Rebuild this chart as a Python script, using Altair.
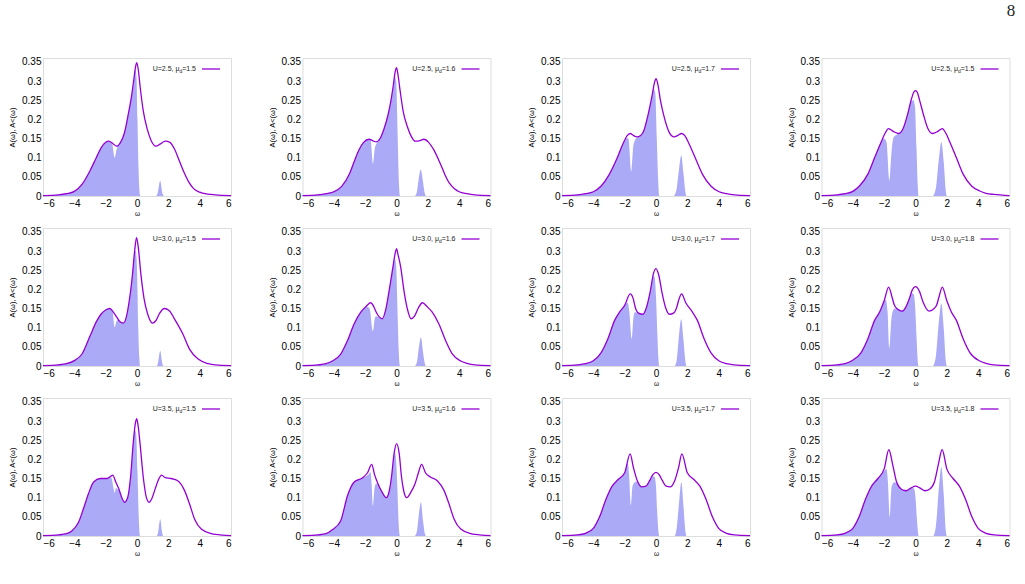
import altair as alt
import pandas as pd

# ---- panel labels -------------------------------------------------------
U_LABELS = ["2.5", "2.5", "2.5", "2.5",
            "3.0", "3.0", "3.0", "3.0",
            "3.5", "3.5", "3.5", "3.5"]
MU_LABELS = ["1.5", "1.6", "1.7", "1.5",
             "1.5", "1.6", "1.7", "1.8",
             "1.5", "1.6", "1.7", "1.8"]

X_TICKS = [-6, -4, -2, 0, 2, 4, 6]
Y_TICKS = [0, 0.05, 0.1, 0.15, 0.2, 0.25, 0.3, 0.35]

# ---- spectral functions: A(w) (line) and A^<(w) (filled) ----------------
# U=2.5, mu_d=1.5
W_A_1 = [-6, -5, -4.5, -4, -3.5, -3, -2.6, -2.3, -2.0, -1.8, -1.55, -1.3, -1.05, -0.8, -0.55, -0.35, -0.2, -0.1, -0.02, 0.08, 0.2, 0.4, 0.65, 0.9, 1.2, 1.5, 1.8, 2.1, 2.4, 2.7, 3.0, 3.3, 3.6, 4.0, 4.5, 5, 6]
A_1 = [0.001, 0.003, 0.006, 0.012, 0.031, 0.066, 0.1, 0.125, 0.14, 0.143, 0.137, 0.13, 0.14, 0.165, 0.215, 0.26, 0.305, 0.335, 0.348, 0.33, 0.285, 0.222, 0.175, 0.145, 0.13, 0.136, 0.143, 0.14, 0.122, 0.092, 0.062, 0.037, 0.02, 0.01, 0.005, 0.003, 0.001]
W_F_1 = [-6, -5, -4.5, -4, -3.5, -3, -2.6, -2.3, -2.0, -1.8, -1.6, -1.42, -1.3, -1.15, -1.05, -0.8, -0.55, -0.35, -0.2, -0.1, -0.03, 0.03, 0.1, 0.18, 0.22, 1.2, 1.32, 1.48, 1.62, 1.72, 6]
F_1 = [0.001, 0.003, 0.006, 0.012, 0.031, 0.066, 0.1, 0.125, 0.14, 0.143, 0.138, 0.1, 0.122, 0.134, 0.14, 0.165, 0.215, 0.26, 0.3, 0.33, 0.31, 0.2, 0.07, 0.005, 0, 0, 0.008, 0.04, 0.008, 0, 0]

# U=2.5, mu_d=1.6
W_A_2 = [-6, -5, -4.5, -4, -3.5, -3, -2.7, -2.4, -2.1, -1.75, -1.5, -1.3, -1.05, -0.8, -0.55, -0.35, -0.2, -0.08, 0, 0.1, 0.22, 0.43, 0.7, 0.95, 1.2, 1.45, 1.75, 2.05, 2.4, 2.8, 3.1, 3.4, 3.7, 4.0, 4.5, 5, 6]
A_2 = [0.001, 0.003, 0.006, 0.011, 0.025, 0.058, 0.09, 0.12, 0.14, 0.148, 0.144, 0.141, 0.15, 0.175, 0.21, 0.25, 0.29, 0.325, 0.335, 0.315, 0.278, 0.22, 0.18, 0.155, 0.143, 0.144, 0.148, 0.14, 0.119, 0.084, 0.055, 0.032, 0.019, 0.011, 0.006, 0.003, 0.001]
W_F_2 = [-6, -5, -4.5, -4, -3.5, -3, -2.7, -2.4, -2.1, -1.75, -1.65, -1.5, -1.38, -1.25, -1.1, -0.8, -0.55, -0.35, -0.2, -0.1, -0.02, 0.06, 0.14, 0.22, 1.15, 1.3, 1.42, 1.55, 1.68, 1.8, 1.9, 6]
F_2 = [0.001, 0.003, 0.006, 0.011, 0.025, 0.058, 0.09, 0.12, 0.14, 0.148, 0.145, 0.084, 0.125, 0.138, 0.147, 0.175, 0.21, 0.25, 0.285, 0.31, 0.3, 0.18, 0.05, 0, 0, 0.01, 0.045, 0.069, 0.04, 0.008, 0, 0]

# U=2.5, mu_d=1.7
W_A_3 = [-6, -5, -4.5, -4, -3.5, -3, -2.5, -2.1, -1.85, -1.65, -1.45, -1.22, -1.0, -0.8, -0.5, -0.26, -0.1, 0, 0.1, 0.28, 0.54, 0.82, 1.0, 1.15, 1.4, 1.63, 1.85, 2.1, 2.53, 2.96, 3.5, 4.03, 4.5, 5, 6]
A_3 = [0.001, 0.003, 0.006, 0.011, 0.026, 0.055, 0.097, 0.137, 0.157, 0.163, 0.158, 0.154, 0.157, 0.168, 0.213, 0.26, 0.295, 0.306, 0.295, 0.25, 0.203, 0.168, 0.157, 0.154, 0.158, 0.163, 0.157, 0.137, 0.097, 0.057, 0.026, 0.011, 0.006, 0.003, 0.001]
W_F_3 = [-6, -5, -4.5, -4, -3.5, -3, -2.5, -2.1, -1.85, -1.75, -1.58, -1.45, -1.35, -1.22, -1.0, -0.8, -0.5, -0.26, -0.14, -0.05, 0.05, 0.14, 0.21, 1.12, 1.3, 1.47, 1.61, 1.75, 1.88, 1.95, 6]
F_3 = [0.001, 0.003, 0.006, 0.011, 0.026, 0.055, 0.097, 0.137, 0.152, 0.148, 0.064, 0.13, 0.145, 0.152, 0.156, 0.168, 0.213, 0.258, 0.28, 0.27, 0.15, 0.04, 0, 0, 0.015, 0.07, 0.106, 0.06, 0.01, 0, 0]

# U=2.5, mu_d=1.8 (labelled 1.5)
W_A_4 = [-6, -5, -4.5, -4, -3.58, -3.04, -2.6, -2.19, -1.95, -1.72, -1.4, -1.07, -0.79, -0.51, -0.28, -0.12, 0, 0.12, 0.26, 0.51, 0.79, 1.07, 1.4, 1.71, 1.95, 2.19, 2.6, 3.04, 3.58, 4.1, 4.5, 5, 6]
A_4 = [0.001, 0.003, 0.006, 0.012, 0.026, 0.057, 0.101, 0.141, 0.163, 0.176, 0.168, 0.163, 0.176, 0.212, 0.25, 0.27, 0.275, 0.27, 0.25, 0.212, 0.176, 0.163, 0.168, 0.176, 0.163, 0.141, 0.101, 0.057, 0.026, 0.013, 0.007, 0.004, 0.001]
W_F_4 = [-6, -5, -4.5, -4, -3.58, -3.04, -2.6, -2.19, -2.0, -1.85, -1.67, -1.52, -1.39, -1.2, -1.07, -0.79, -0.51, -0.28, -0.13, -0.03, 0.06, 0.14, 0.19, 1.1, 1.3, 1.5, 1.65, 1.8, 1.93, 2.0, 6]
F_4 = [0.001, 0.003, 0.006, 0.012, 0.026, 0.057, 0.101, 0.141, 0.15, 0.14, 0.04, 0.12, 0.154, 0.16, 0.163, 0.176, 0.212, 0.248, 0.25, 0.23, 0.13, 0.03, 0, 0, 0.02, 0.1, 0.141, 0.09, 0.015, 0, 0]

# U=3.0, mu_d=1.5
W_A_5 = [-6, -5, -4.5, -4, -3.5, -3.0, -2.6, -2.3, -2.0, -1.74, -1.5, -1.3, -1.1, -0.88, -0.7, -0.52, -0.3, -0.15, -0.03, 0.08, 0.24, 0.45, 0.67, 0.99, 1.2, 1.45, 1.74, 2.05, 2.39, 2.92, 3.35, 3.9, 4.55, 5, 6]
A_5 = [0.001, 0.003, 0.006, 0.014, 0.032, 0.078, 0.115, 0.135, 0.146, 0.15, 0.14, 0.128, 0.116, 0.112, 0.125, 0.163, 0.234, 0.3, 0.335, 0.31, 0.243, 0.176, 0.137, 0.112, 0.118, 0.138, 0.15, 0.145, 0.123, 0.084, 0.044, 0.018, 0.006, 0.003, 0.001]
W_F_5 = [-6, -5, -4.5, -4, -3.5, -3.0, -2.6, -2.3, -2.0, -1.74, -1.57, -1.42, -1.3, -1.2, -1.1, -0.88, -0.7, -0.52, -0.3, -0.15, -0.08, 0.0, 0.08, 0.15, 0.19, 1.25, 1.35, 1.48, 1.6, 1.68, 6]
F_5 = [0.001, 0.003, 0.006, 0.014, 0.032, 0.078, 0.115, 0.135, 0.146, 0.15, 0.145, 0.101, 0.118, 0.12, 0.116, 0.112, 0.125, 0.163, 0.234, 0.295, 0.3, 0.25, 0.1, 0.02, 0, 0, 0.01, 0.04, 0.01, 0, 0]

# U=3.0, mu_d=1.6
W_A_6 = [-6, -5, -4.5, -4.1, -3.56, -3.13, -2.7, -2.27, -1.95, -1.66, -1.45, -1.3, -1.1, -0.91, -0.7, -0.48, -0.22, -0.08, 0, 0.1, 0.26, 0.5, 0.71, 0.93, 1.15, 1.4, 1.66, 1.95, 2.27, 2.7, 3.14, 3.57, 4.1, 4.5, 5, 6]
A_6 = [0.001, 0.003, 0.006, 0.013, 0.031, 0.066, 0.11, 0.141, 0.155, 0.165, 0.155, 0.141, 0.128, 0.123, 0.145, 0.194, 0.26, 0.295, 0.306, 0.29, 0.26, 0.19, 0.146, 0.123, 0.13, 0.152, 0.165, 0.155, 0.141, 0.11, 0.066, 0.031, 0.013, 0.007, 0.003, 0.001]
W_F_6 = [-6, -5, -4.5, -4.1, -3.56, -3.13, -2.7, -2.27, -1.95, -1.72, -1.5, -1.38, -1.3, -1.15, -0.91, -0.7, -0.48, -0.22, -0.1, -0.02, 0.06, 0.14, 0.22, 1.15, 1.3, 1.45, 1.56, 1.68, 1.8, 1.88, 6]
F_6 = [0.001, 0.003, 0.006, 0.013, 0.031, 0.066, 0.11, 0.141, 0.155, 0.15, 0.091, 0.125, 0.13, 0.128, 0.123, 0.145, 0.194, 0.258, 0.28, 0.26, 0.15, 0.04, 0, 0, 0.01, 0.055, 0.075, 0.04, 0.008, 0, 0]

# U=3.0, mu_d=1.7
W_A_7 = [-6, -5, -4.5, -4.03, -3.5, -3.07, -2.64, -2.32, -2.0, -1.65, -1.45, -1.33, -1.12, -0.84, -0.6, -0.37, -0.15, 0, 0.17, 0.39, 0.6, 0.86, 1.12, 1.33, 1.45, 1.63, 1.9, 2.32, 2.64, 3.07, 3.5, 4.03, 4.5, 5, 6]
A_7 = [0.001, 0.003, 0.006, 0.013, 0.035, 0.071, 0.119, 0.141, 0.158, 0.188, 0.175, 0.154, 0.138, 0.135, 0.154, 0.194, 0.243, 0.254, 0.238, 0.19, 0.154, 0.135, 0.138, 0.154, 0.172, 0.188, 0.165, 0.141, 0.119, 0.071, 0.035, 0.013, 0.006, 0.003, 0.001]
W_F_7 = [-6, -5, -4.5, -4.03, -3.5, -3.07, -2.64, -2.32, -2.0, -1.8, -1.7, -1.55, -1.43, -1.33, -1.2, -0.84, -0.6, -0.37, -0.15, -0.08, 0.0, 0.08, 0.16, 0.21, 1.18, 1.32, 1.48, 1.61, 1.75, 1.88, 1.95, 6]
F_7 = [0.001, 0.003, 0.006, 0.013, 0.035, 0.071, 0.119, 0.141, 0.158, 0.165, 0.14, 0.071, 0.13, 0.141, 0.138, 0.135, 0.154, 0.194, 0.235, 0.23, 0.18, 0.09, 0.015, 0, 0, 0.015, 0.085, 0.122, 0.07, 0.012, 0, 0]

# U=3.0, mu_d=1.8
W_A_8 = [-6, -5, -4.5, -4.1, -3.47, -3.04, -2.61, -2.29, -2.0, -1.71, -1.5, -1.35, -1.14, -0.86, -0.6, -0.39, -0.21, 0, 0.26, 0.47, 0.86, 1.14, 1.35, 1.5, 1.71, 2.0, 2.29, 2.61, 3.04, 3.47, 4.1, 4.5, 5, 6]
A_8 = [0.001, 0.003, 0.006, 0.013, 0.035, 0.071, 0.119, 0.141, 0.17, 0.206, 0.18, 0.159, 0.148, 0.143, 0.155, 0.176, 0.198, 0.207, 0.194, 0.168, 0.143, 0.148, 0.159, 0.18, 0.206, 0.17, 0.141, 0.119, 0.071, 0.035, 0.013, 0.007, 0.003, 0.001]
W_F_8 = [-6, -5, -4.5, -4.1, -3.47, -3.04, -2.61, -2.29, -2.0, -1.89, -1.78, -1.67, -1.52, -1.35, -1.14, -0.86, -0.6, -0.39, -0.21, -0.12, -0.03, 0.06, 0.14, 0.19, 1.1, 1.3, 1.5, 1.65, 1.8, 1.93, 2.0, 6]
F_8 = [0.001, 0.003, 0.006, 0.013, 0.035, 0.071, 0.119, 0.141, 0.17, 0.172, 0.14, 0.047, 0.13, 0.15, 0.15, 0.143, 0.155, 0.176, 0.19, 0.188, 0.16, 0.08, 0.015, 0, 0, 0.025, 0.12, 0.163, 0.1, 0.015, 0, 0]

# U=3.5, mu_d=1.5
W_A_9 = [-6, -5, -4.5, -4.17, -3.74, -3.42, -3.1, -2.77, -2.34, -1.91, -1.7, -1.55, -1.35, -1.16, -0.95, -0.8, -0.6, -0.41, -0.24, -0.1, -0.02, 0.08, 0.19, 0.41, 0.6, 0.77, 0.95, 1.16, 1.35, 1.57, 1.8, 2.17, 2.6, 3.03, 3.35, 3.68, 4.1, 4.75, 5, 6]
A_9 = [0.001, 0.003, 0.006, 0.013, 0.035, 0.071, 0.11, 0.141, 0.15, 0.15, 0.155, 0.159, 0.14, 0.123, 0.098, 0.088, 0.1, 0.154, 0.243, 0.295, 0.306, 0.285, 0.243, 0.15, 0.1, 0.088, 0.098, 0.123, 0.145, 0.159, 0.152, 0.15, 0.144, 0.119, 0.084, 0.044, 0.018, 0.006, 0.004, 0.001]
W_F_9 = [-6, -5, -4.5, -4.17, -3.74, -3.42, -3.1, -2.77, -2.34, -1.91, -1.75, -1.64, -1.5, -1.42, -1.35, -1.27, -1.16, -0.95, -0.8, -0.6, -0.41, -0.24, -0.15, -0.06, 0.03, 0.11, 0.19, 1.25, 1.35, 1.48, 1.6, 1.68, 6]
F_9 = [0.001, 0.003, 0.006, 0.013, 0.035, 0.071, 0.11, 0.141, 0.15, 0.15, 0.152, 0.152, 0.125, 0.112, 0.125, 0.123, 0.12, 0.098, 0.088, 0.1, 0.154, 0.24, 0.275, 0.27, 0.17, 0.05, 0, 0, 0.01, 0.044, 0.01, 0, 0]

# U=3.5, mu_d=1.6
W_A_10 = [-6, -5, -4.5, -4.1, -3.56, -3.13, -2.7, -2.16, -1.85, -1.58, -1.4, -1.19, -0.93, -0.65, -0.45, -0.32, -0.15, 0, 0.17, 0.32, 0.45, 0.65, 0.93, 1.19, 1.4, 1.6, 1.85, 2.16, 2.6, 3.03, 3.35, 3.68, 4.1, 4.75, 5, 6]
A_10 = [0.001, 0.003, 0.006, 0.016, 0.04, 0.105, 0.141, 0.152, 0.165, 0.187, 0.16, 0.137, 0.115, 0.1, 0.12, 0.154, 0.216, 0.241, 0.216, 0.154, 0.12, 0.1, 0.115, 0.137, 0.165, 0.187, 0.165, 0.154, 0.144, 0.119, 0.084, 0.044, 0.018, 0.006, 0.004, 0.001]
W_F_10 = [-6, -5, -4.5, -4.1, -3.56, -3.13, -2.7, -2.16, -1.8, -1.66, -1.58, -1.51, -1.4, -1.3, -1.19, -0.93, -0.65, -0.45, -0.32, -0.15, -0.1, -0.03, 0.06, 0.14, 0.22, 1.15, 1.3, 1.45, 1.56, 1.68, 1.8, 1.88, 6]
F_10 = [0.001, 0.003, 0.006, 0.016, 0.04, 0.105, 0.141, 0.152, 0.16, 0.166, 0.13, 0.079, 0.125, 0.137, 0.135, 0.115, 0.1, 0.12, 0.154, 0.21, 0.22, 0.2, 0.12, 0.03, 0, 0, 0.012, 0.065, 0.088, 0.045, 0.008, 0, 0]

# U=3.5, mu_d=1.7
W_A_11 = [-6, -5, -4.5, -4.0, -3.6, -3.2, -2.8, -2.4, -2.0, -1.65, -1.45, -1.2, -0.9, -0.65, -0.4, -0.2, 0, 0.2, 0.4, 0.65, 0.9, 1.2, 1.45, 1.65, 2.0, 2.4, 2.8, 3.2, 3.6, 4.0, 4.5, 5, 6]
A_11 = [0.001, 0.003, 0.007, 0.02, 0.05, 0.095, 0.13, 0.148, 0.165, 0.214, 0.18, 0.145, 0.128, 0.13, 0.145, 0.16, 0.166, 0.16, 0.145, 0.13, 0.128, 0.145, 0.18, 0.214, 0.165, 0.148, 0.13, 0.095, 0.05, 0.02, 0.007, 0.003, 0.001]
W_F_11 = [-6, -5, -4.5, -4.0, -3.6, -3.2, -2.8, -2.4, -2.0, -1.8, -1.72, -1.6, -1.5, -1.35, -1.2, -0.9, -0.65, -0.4, -0.2, -0.1, 0.0, 0.08, 0.16, 0.21, 1.18, 1.32, 1.5, 1.62, 1.75, 1.88, 1.95, 6]
F_11 = [0.001, 0.003, 0.007, 0.02, 0.05, 0.095, 0.13, 0.148, 0.165, 0.19, 0.16, 0.08, 0.13, 0.14, 0.142, 0.128, 0.13, 0.145, 0.155, 0.155, 0.13, 0.06, 0.01, 0, 0, 0.02, 0.1, 0.14, 0.08, 0.012, 0, 0]

# U=3.5, mu_d=1.8
W_A_12 = [-6, -5, -4.5, -4.0, -3.6, -3.2, -2.8, -2.4, -2.0, -1.7, -1.45, -1.2, -0.9, -0.6, -0.3, 0, 0.3, 0.6, 0.9, 1.2, 1.45, 1.7, 2.0, 2.4, 2.8, 3.2, 3.6, 4.0, 4.5, 5, 6]
A_12 = [0.001, 0.003, 0.007, 0.02, 0.05, 0.095, 0.13, 0.15, 0.175, 0.225, 0.185, 0.14, 0.122, 0.118, 0.125, 0.13, 0.125, 0.118, 0.122, 0.14, 0.185, 0.225, 0.175, 0.15, 0.13, 0.095, 0.05, 0.02, 0.007, 0.003, 0.001]
W_F_12 = [-6, -5, -4.5, -4.0, -3.6, -3.2, -2.8, -2.4, -2.0, -1.85, -1.76, -1.65, -1.52, -1.35, -1.2, -0.9, -0.6, -0.3, -0.12, 0.0, 0.08, 0.16, 0.21, 1.12, 1.3, 1.5, 1.65, 1.8, 1.93, 2.0, 6]
F_12 = [0.001, 0.003, 0.007, 0.02, 0.05, 0.095, 0.13, 0.15, 0.17, 0.175, 0.14, 0.05, 0.13, 0.14, 0.138, 0.122, 0.118, 0.123, 0.125, 0.1, 0.05, 0.01, 0, 0, 0.025, 0.13, 0.18, 0.11, 0.015, 0, 0]

W_A = [W_A_1, W_A_2, W_A_3, W_A_4, W_A_5, W_A_6, W_A_7, W_A_8, W_A_9, W_A_10, W_A_11, W_A_12]
A = [A_1, A_2, A_3, A_4, A_5, A_6, A_7, A_8, A_9, A_10, A_11, A_12]
W_F = [W_F_1, W_F_2, W_F_3, W_F_4, W_F_5, W_F_6, W_F_7, W_F_8, W_F_9, W_F_10, W_F_11, W_F_12]
F = [F_1, F_2, F_3, F_4, F_5, F_6, F_7, F_8, F_9, F_10, F_11, F_12]

# ---- style --------------------------------------------------------------
FONT = "Liberation Sans"
LINE_COLOR = "#9400d3"
FILL_COLOR = "#aaaaf6"
PW, PH = 188, 138          # plot area of one panel
FS = 6.5                   # small gnuplot-like text


def panel(i, page_mark=False):
    x = alt.X("w:Q", scale=alt.Scale(domain=[-6, 6], nice=False, zero=False),
              axis=alt.Axis(values=X_TICKS, title="ω", titleFontSize=FS,
                            titleFontWeight="normal", titlePadding=2,
                            grid=False, ticks=False, domain=False))
    y = alt.Y("v:Q", scale=alt.Scale(domain=[0, 0.36], nice=False),
              axis=alt.Axis(values=Y_TICKS, format="~g",
                            title="A(ω), A˂(ω)", titleFontSize=7.5,
                            titleFontWeight="normal", titlePadding=5,
                            grid=False, ticks=False, domain=False))
    area = alt.Chart(pd.DataFrame({"w": W_F[i], "v": F[i]})).mark_area(
        color=FILL_COLOR, opacity=1, interpolate="monotone").encode(x=x, y=y)
    line = alt.Chart(pd.DataFrame({"w": W_A[i], "v": A[i]})).mark_line(
        color=LINE_COLOR, strokeWidth=1.3, interpolate="monotone").encode(x=x, y=y)

    # key in the upper right corner: "U=.., mu_d=.." followed by a line sample
    key = pd.DataFrame({"head": [f"U={U_LABELS[i]}, μ"], "sub": ["d"],
                        "tail": [f"={MU_LABELS[i]}"]})
    base = alt.Chart(key)
    t_tail = base.mark_text(align="right", baseline="middle", font=FONT,
                            fontSize=7, color="#222").encode(
        x=alt.value(153), y=alt.value(11), text="tail:N")
    t_sub = base.mark_text(align="right", baseline="middle", font=FONT,
                           fontSize=5, color="#222", dy=2).encode(
        x=alt.value(139.3), y=alt.value(11), text="sub:N")
    t_head = base.mark_text(align="right", baseline="middle", font=FONT,
                            fontSize=7, color="#222").encode(
        x=alt.value(136.5), y=alt.value(11), text="head:N")
    sample = base.mark_rule(color=LINE_COLOR, strokeWidth=1.3).encode(
        x=alt.value(159), x2=alt.value(177), y=alt.value(11))
    layers = [area, line, sample, t_head, t_sub, t_tail]
    if page_mark:
        page = alt.Chart(pd.DataFrame({"p": ["8"]})).mark_text(
            align="center", baseline="middle", font="Liberation Serif",
            fontSize=17, color="#222").encode(
            x=alt.value(PW + 1.5), y=alt.value(-47), text="p:N")
        layers.append(page)
    return alt.layer(*layers).properties(width=PW, height=PH)


panels = [panel(k, page_mark=(k == 3)) for k in range(12)]

chart = alt.concat(
    *panels, columns=4, bounds="flush",
    spacing=alt.RowColnumber(row=32, column=71.5)
).properties(
    padding={"left": 8, "top": 1, "right": 5, "bottom": 5}
).configure_view(
    stroke="#000", strokeWidth=0.8
).configure_axis(
    labelFont=FONT, titleFont=FONT, labelFontSize=FS, labelColor="#222",
    titleColor="#222", ticks=False, domain=False, grid=False, labelPadding=3
).configure(background="white")

chart.save("out.html", embed_options={"renderer": "svg", "actions": False})
